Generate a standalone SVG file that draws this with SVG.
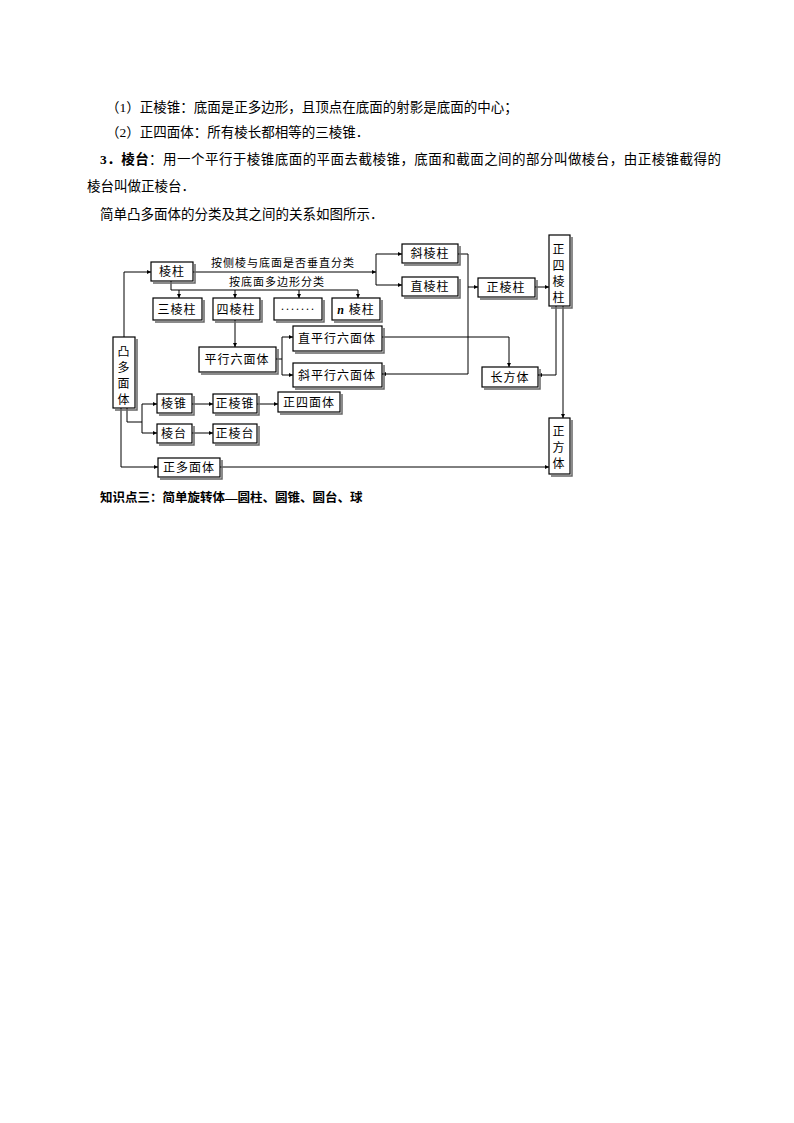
<svg xmlns="http://www.w3.org/2000/svg" width="794" height="1123" viewBox="0 0 794 1123">
<defs>
<marker id="a" viewBox="0 0 6 6" refX="6" refY="3" markerWidth="4" markerHeight="4" orient="auto"><path d="M0,0L6,3L0,6z" fill="#000"/></marker>
<style>
text{font-family:"Liberation Serif","Noto Sans CJK SC",serif;fill:#000}
.p{font-size:13.5px}
.b{font-weight:bold}
.n rect{fill:#fff;stroke:#000;stroke-width:1.2}
.n text{font-size:12px;text-anchor:middle;letter-spacing:1px}
.s{fill:none;stroke:#666;stroke-width:1.5}
#c path{fill:none;stroke:#000;stroke-width:1}
.ar{marker-end:url(#a)}
.lb{font-size:11px;text-anchor:middle;letter-spacing:1px}
</style>
</defs>
<rect width="794" height="1123" fill="#fff"/>
<text class="p" x="106" y="112">（1）正棱锥：底面是正多边形，且顶点在底面的射影是底面的中心；</text>
<text class="p" x="106" y="137">（2）正四面体：所有棱长都相等的三棱锥．</text>
<text class="p" x="100" y="164" textLength="621" lengthAdjust="spacing"><tspan class="b">3．棱台</tspan>：用一个平行于棱锥底面的平面去截棱锥，底面和截面之间的部分叫做棱台，由正棱锥截得的</text>
<text class="p" x="87" y="191">棱台叫做正棱台．</text>
<text class="p" x="100" y="219">简单凸多面体的分类及其之间的关系如图所示．</text>
<text class="p b" x="100" y="502" style="font-size:12.5px">知识点三：简单旋转体—圆柱、圆锥、圆台、球</text>

<g id="c">
<path class="ar" d="M124,337V272H151"/>
<path d="M193,272H373"/>
<path class="ar" d="M373,272H376"/>
<path class="ar" d="M376,254V285H402"/>
<path class="ar" d="M376,254H402"/>
<path d="M171,281V290H358"/>
<path class="ar" d="M179,290V298"/>
<path class="ar" d="M235,290V298"/>
<path class="ar" d="M299,290V298"/>
<path class="ar" d="M358,290V298"/>
<path class="ar" d="M235,320V347"/>
<path d="M276,359H282"/>
<path class="ar" d="M282,337V375H293"/>
<path class="ar" d="M282,337H293"/>
<path class="ar" d="M382,337H509V367"/>
<path d="M458,254H468V374"/>
<path class="ar" d="M468,374H382"/>
<path class="ar" d="M468,287H478"/>
<path class="ar" d="M535,287H549"/>
<path class="ar" d="M556,306V375H538"/>
<path class="ar" d="M563,306V418"/>
<path class="ar" d="M121,408V467H158"/>
<path class="ar" d="M220,467H549"/>
<path d="M127,408V422H142"/>
<path class="ar" d="M142,404V433H157"/>
<path class="ar" d="M142,404H157"/>
<path class="ar" d="M192,404H213"/>
<path class="ar" d="M257,404H278"/>
<path class="ar" d="M192,433H213"/>
</g>
<text class="lb" x="283" y="267">按侧棱与底面是否垂直分类</text>
<text class="lb" x="277" y="286">按底面多边形分类</text>

<g id="n1" class="n"><path class="s" d="M115,410H137V339"/><rect x="113" y="337" width="22" height="71"/><text x="124" y="356">凸</text><text x="124" y="372">多</text><text x="124" y="388">面</text><text x="124" y="404">体</text></g>
<g id="n2" class="n"><path class="s" d="M153,283H195V264"/><rect x="151" y="262" width="42" height="19"/><text x="172" y="276">棱柱</text></g>
<g id="n3" class="n"><path class="s" d="M404,265H460V246"/><rect x="402" y="244" width="56" height="19"/><text x="430" y="258">斜棱柱</text></g>
<g id="n4" class="n"><path class="s" d="M404,298H460V279"/><rect x="402" y="277" width="56" height="19"/><text x="430" y="291">直棱柱</text></g>
<g id="n5" class="n"><path class="s" d="M480,299H537V280"/><rect x="478" y="278" width="57" height="19"/><text x="506" y="292">正棱柱</text></g>
<g id="n6" class="n"><path class="s" d="M551,308H572V237"/><rect x="549" y="235" width="21" height="71"/><text x="559" y="254">正</text><text x="559" y="270">四</text><text x="559" y="286">棱</text><text x="559" y="302">柱</text></g>
<g id="n7" class="n"><path class="s" d="M155,322H204V300"/><rect x="153" y="298" width="49" height="22"/><text x="177" y="314">三棱柱</text></g>
<g id="n8" class="n"><path class="s" d="M215,322H262V300"/><rect x="213" y="298" width="47" height="22"/><text x="236" y="314">四棱柱</text></g>
<g id="n9" class="n"><path class="s" d="M276,322H324V300"/><rect x="274" y="298" width="48" height="22"/><text x="298" y="313">·······</text></g>
<g id="n10" class="n"><path class="s" d="M334,322H382V300"/><rect x="332" y="298" width="48" height="22"/><text x="356" y="314"><tspan font-style="italic" font-weight="bold">n</tspan> 棱柱</text></g>
<g id="n11" class="n"><path class="s" d="M201,374H278V349"/><rect x="199" y="347" width="77" height="25"/><text x="237" y="364">平行六面体</text></g>
<g id="n12" class="n"><path class="s" d="M295,353H384V328"/><rect x="293" y="326" width="89" height="25"/><text x="337" y="343">直平行六面体</text></g>
<g id="n13" class="n"><path class="s" d="M295,389H384V365"/><rect x="293" y="363" width="89" height="24"/><text x="337" y="380">斜平行六面体</text></g>
<g id="n14" class="n"><path class="s" d="M484,389H540V369"/><rect x="482" y="367" width="56" height="20"/><text x="510" y="382">长方体</text></g>
<g id="n15" class="n"><path class="s" d="M159,415H194V396"/><rect x="157" y="394" width="35" height="19"/><text x="174" y="408">棱锥</text></g>
<g id="n16" class="n"><path class="s" d="M215,415H259V396"/><rect x="213" y="394" width="44" height="19"/><text x="235" y="408">正棱锥</text></g>
<g id="n17" class="n"><path class="s" d="M280,414H342V394"/><rect x="278" y="392" width="62" height="20"/><text x="309" y="407">正四面体</text></g>
<g id="n18" class="n"><path class="s" d="M159,445H194V426"/><rect x="157" y="424" width="35" height="19"/><text x="174" y="438">棱台</text></g>
<g id="n19" class="n"><path class="s" d="M215,445H259V426"/><rect x="213" y="424" width="44" height="19"/><text x="235" y="438">正棱台</text></g>
<g id="n20" class="n"><path class="s" d="M160,479H222V460"/><rect x="158" y="458" width="62" height="19"/><text x="189" y="472">正多面体</text></g>
<g id="n21" class="n"><path class="s" d="M551,476H572V420"/><rect x="549" y="418" width="21" height="56"/><text x="559" y="436">正</text><text x="559" y="452">方</text><text x="559" y="468">体</text></g>
</svg>
